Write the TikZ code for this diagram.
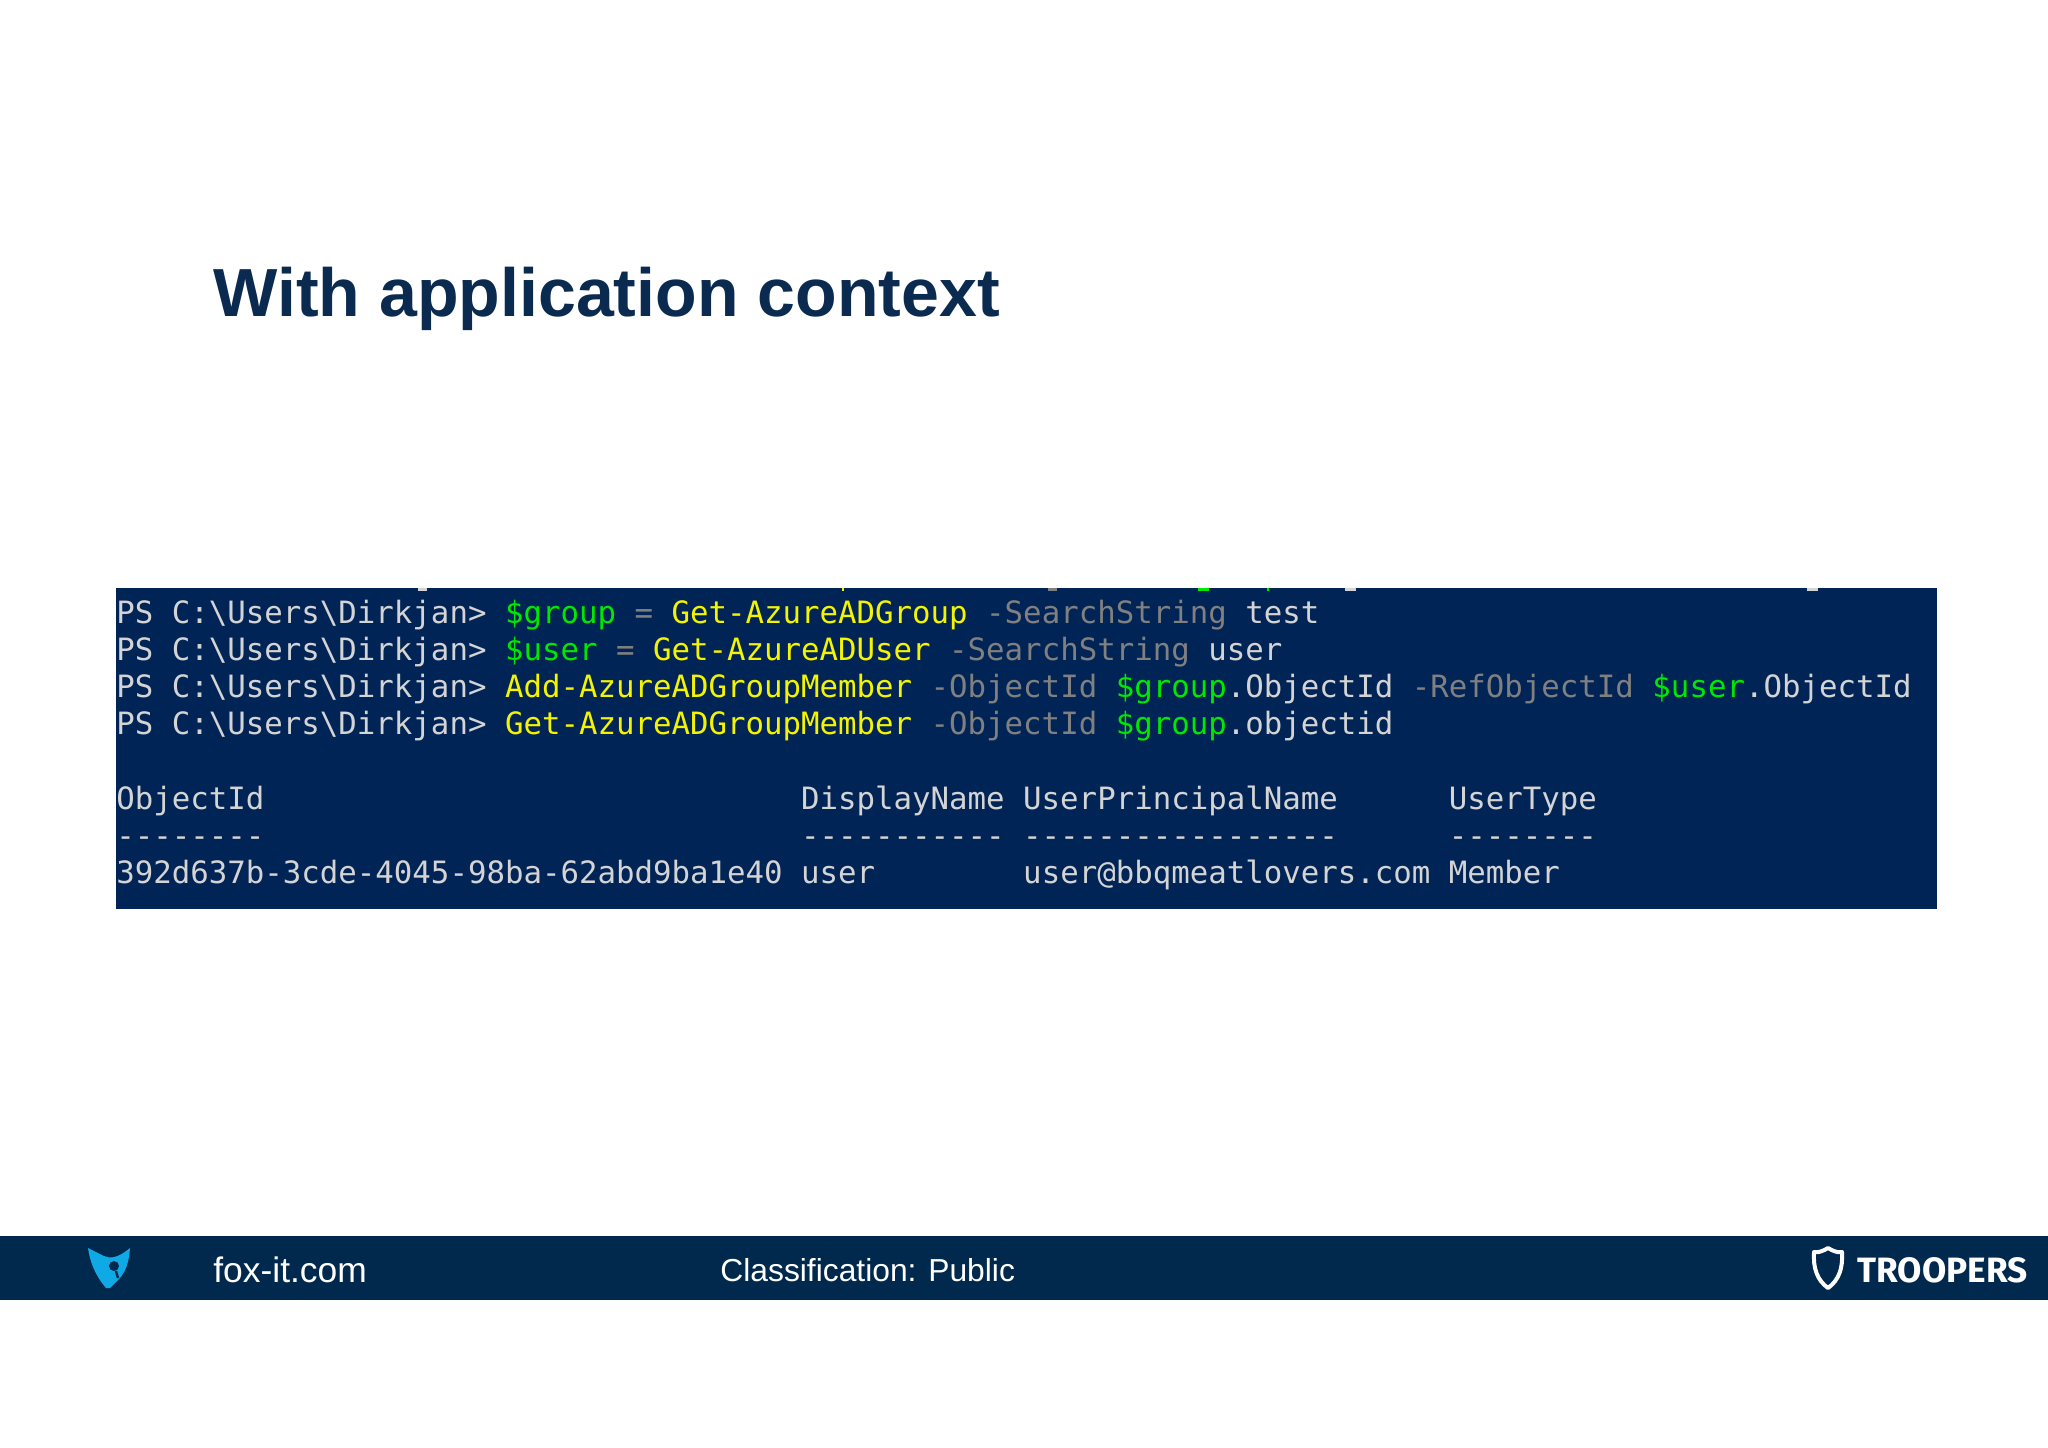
\documentclass[tikz,border=0pt]{standalone}
\usepackage{fontspec}
\setmainfont{Liberation Sans}
\newfontfamily\termfont{DejaVu Sans Mono}
\newfontfamily\badgefont{Fira Sans}
\usetikzlibrary{positioning}
\definecolor{navy}{HTML}{012456}
\definecolor{barblue}{HTML}{00294D}
\definecolor{titleblue}{HTML}{0A2A50}
\definecolor{foxblue}{HTML}{0FA9E6}
\definecolor{termwhite}{HTML}{D4D4D4}
\definecolor{termgrey}{HTML}{808080}
\definecolor{termyellow}{HTML}{F4F400}
\definecolor{termgreen}{HTML}{00E800}
\newcommand{\yel}[1]{\textcolor{termyellow}{#1}}
\newcommand{\grn}[1]{\textcolor{termgreen}{#1}}
\newcommand{\gry}[1]{\textcolor{termgrey}{#1}}
\newcommand{\prompt}{PS~C:\textbackslash Users\textbackslash Dirkjan>~}
\begin{document}
\begin{tikzpicture}[x=0.5pt,y=-0.5pt,node distance=18.55pt,on grid,
    panel/.style={fill=navy,inner sep=0pt,minimum width=910.5pt,minimum height=160.5pt,anchor=north west},
    bar/.style={fill=barblue,inner sep=0pt,minimum width=1024pt,minimum height=32pt,anchor=north west},
    termline/.style={inner sep=0pt,anchor=west,text=termwhite,text height=9pt,text depth=2.5pt,
        font=\termfont\fontsize{15.37}{18}\selectfont},
    barlabel/.style={inner sep=0pt,anchor=base west,text=white}]
    \useasboundingbox (0,0) rectangle (2048,1447);
    \fill[white] (0,0) rectangle (2048,1447);
    \node[inner sep=0pt,anchor=base west,text=titleblue,font=\bfseries\fontsize{34.05}{40}\selectfont] (title) at (213,316) {With application context};

    \node[panel] (term) at (116,588) {};
    % ends of the line cut off above the panel
    \foreach \x/\w/\c in {418/9/termwhite,842/2/termyellow,1048/9/termgrey,1198/11/termgreen,1267/2/termgreen,1345/11/termwhite,1807/11/termwhite}
        \fill[\c] (\x,588) rectangle ++(\w,3);

    \node[termline] (row1) at (116,617) {\prompt\grn{\$group}~\gry{=}~\yel{Get-AzureADGroup}~\gry{-SearchString}~test};
    \node[termline,below=of row1.west,anchor=west] (row2) {\prompt\grn{\$user}~\gry{=}~\yel{Get-AzureADUser}~\gry{-SearchString}~user};
    \node[termline,below=of row2.west,anchor=west] (row3) {\prompt\yel{Add-AzureADGroupMember}~\gry{-ObjectId}~\grn{\$group}.ObjectId~\gry{-RefObjectId}~\grn{\$user}.ObjectId};
    \node[termline,below=of row3.west,anchor=west] (row4) {\prompt\yel{Get-AzureADGroupMember}~\gry{-ObjectId}~\grn{\$group}.objectid};
    \node[termline,below=37.1pt of row4.west,anchor=west] (head) {ObjectId~~~~~~~~~~~~~~~~~~~~~~~~~~~~~DisplayName~UserPrincipalName~~~~~~UserType};
    \node[termline,below=of head.west,anchor=west] (dash) {--------~~~~~~~~~~~~~~~~~~~~~~~~~~~~~-----------~-----------------~~~~~~--------};
    \node[termline,below=of dash.west,anchor=west] (item) {392d637b-3cde-4045-98ba-62abd9ba1e40~user~~~~~~~~user@bbqmeatlovers.com~Member};

    \node[bar] (footer) at (0,1236) {};
    \node[barlabel,font=\fontsize{17.7}{22}\selectfont] (site) at (213,1282) {fox-it.com};
    \node[barlabel,font=\fontsize{15.9}{20}\selectfont] (class) at (720,1281) {Classification: Public};
    \node[barlabel,font=\badgefont\bfseries\fontsize{17.6}{22}\selectfont] (brand) at (1857,1282) {TROOPERS};

    % fox head
    \fill[foxblue] (88,1248) -- (104,1256) .. controls (110,1259) and (118,1258) .. (130,1248)
        .. controls (129,1262) and (126,1272) .. (118,1280) -- (110,1288) -- (106,1288)
        .. controls (95,1275) and (90,1262) .. (88,1248) -- cycle;
    \fill[barblue] (114,1266) circle[radius=5];
    \draw[barblue,line width=1.2pt] (116,1271) -- (118,1278);
    % shield
    \draw[white,line width=2pt,line join=round] (1828,1248) .. controls (1833,1251) and (1838,1253) .. (1842,1252)
        .. controls (1843,1268) and (1839,1280) .. (1828,1288)
        .. controls (1817,1280) and (1813,1268) .. (1814,1252)
        .. controls (1818,1253) and (1823,1251) .. (1828,1248) -- cycle;
\end{tikzpicture}
\end{document}
